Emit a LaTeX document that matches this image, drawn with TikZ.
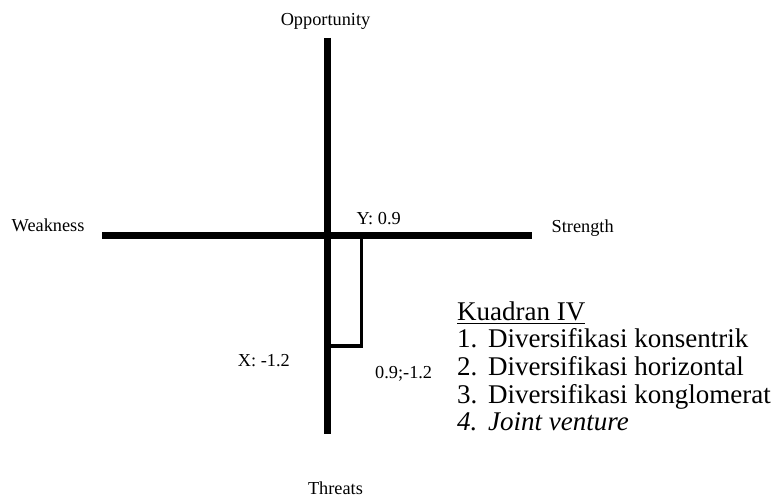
\documentclass[tikz,border=0pt]{standalone}
\usepackage{fontspec}
\setmainfont{Liberation Serif}
\usetikzlibrary{positioning}

\begin{document}
\begin{tikzpicture}[x=1pt, y=-1pt,
    lbl/.style={inner sep=0pt, font=\fontsize{18.3}{22}\selectfont},
    item/.style={inner sep=0pt, anchor=base west, font=\fontsize{27}{32}\selectfont},
    axis/.style={line width=7pt},
    mark line/.style={line width=3.3pt}]
    \useasboundingbox (0,0) rectangle (780,497);
    % axes
    \coordinate (top) at (327,38);
    \coordinate (bot) at (327,434);
    \coordinate (left) at (102,236);
    \coordinate (right) at (532,236);
    \draw[axis] (top) -- (bot);
    \draw[axis] (left) -- (right);
    \node[lbl, anchor=base] (opp) at (325.5,26) {Opportunity};
    \node[lbl, anchor=base] (thr) at (335.5,494) {Threats};
    \node[lbl, anchor=base west] (weak) at (11.5,231.5) {Weakness};
    \node[lbl, anchor=base west] (str) at (551.5,233) {Strength};
    % position
    \coordinate (py) at (361.7,236);
    \coordinate (pxy) at (361.7,346);
    \coordinate (px) at (327,346);
    \draw[mark line] (py) -- (pxy) -- (px);
    \node[lbl, anchor=base west] (ylbl) at (356.5,225) {Y: 0.9};
    \node[lbl, anchor=base east] (xlbl) at (290,366.5) {X: -1.2};
    \node[lbl, anchor=base west] (xylbl) at (375,378) {0.9;-1.2};
    % strategy list
    \node[item] (kuad) at (457,321) {\underline{Kuadran IV}};
    \node[item] (n1) at (457,348) {1.};
    \node[item] (n2) at (457,375.5) {2.};
    \node[item] (n3) at (457,403) {3.};
    \node[item] (n4) at (457,430.5) {\itshape 4.};
    \node[item] (s1) at (488,348) {Diversifikasi konsentrik};
    \node[item] (s2) at (488,375.5) {Diversifikasi horizontal};
    \node[item] (s3) at (488,403) {Diversifikasi konglomerat};
    \node[item] (s4) at (488,430.5) {\itshape Joint venture};
\end{tikzpicture}
\end{document}
